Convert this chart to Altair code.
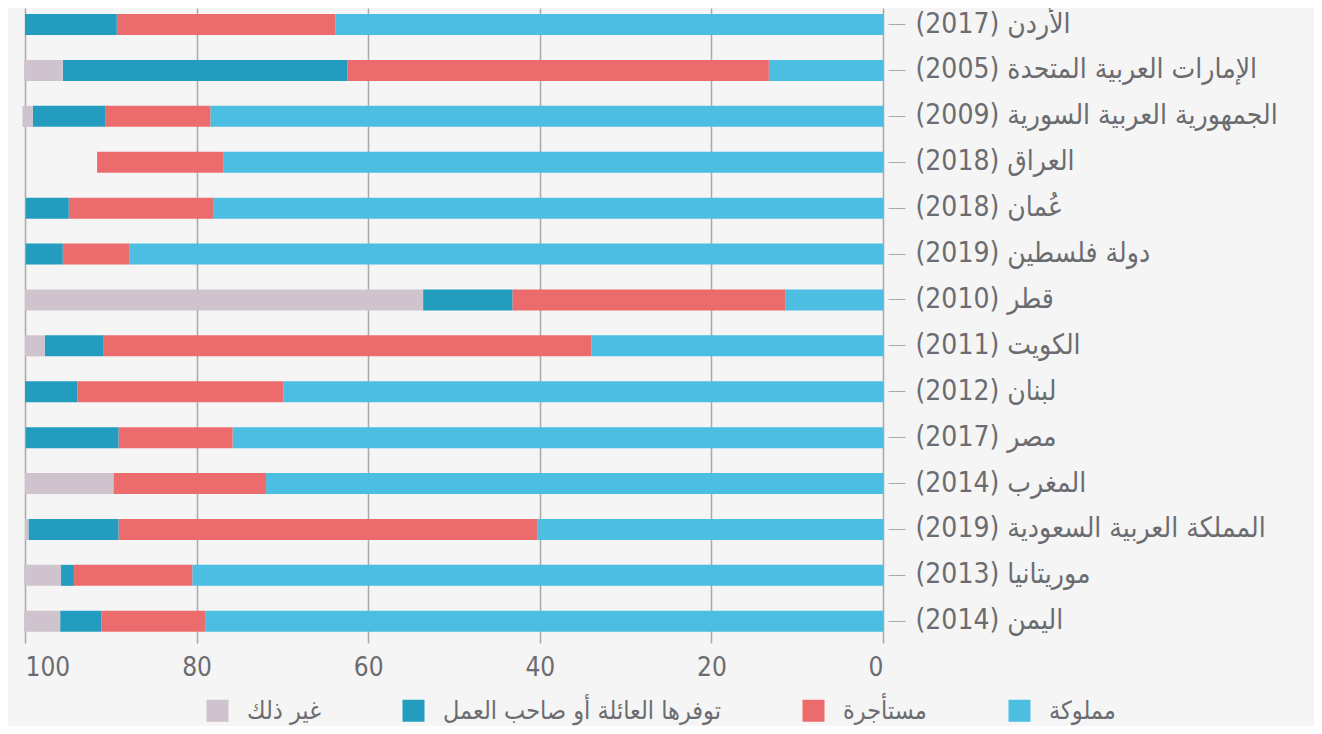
import altair as alt
import pandas as pd

countries = [
    "الأردن (2017)",
    "الإمارات العربية المتحدة (2005)",
    "الجمهورية العربية السورية (2009)",
    "العراق (2018)",
    "عُمان (2018)",
    "دولة فلسطين (2019)",
    "قطر (2010)",
    "الكويت (2011)",
    "لبنان (2012)",
    "مصر (2017)",
    "المغرب (2014)",
    "المملكة العربية السعودية (2019)",
    "موريتانيا (2013)",
    "اليمن (2014)",
]
categories = ["مملوكة", "مستأجرة", "توفرها العائلة أو صاحب العمل", "غير ذلك"]
colors = ["#4bbee2", "#ec6c6e", "#249cc0", "#cfc3cd"]

owned = [63.8, 13.3, 78.4, 76.9, 78.0, 87.8, 11.4, 34.0, 69.9, 75.8, 71.9, 40.3, 80.5, 79.0]
rented = [25.5, 49.1, 12.2, 14.7, 16.9, 7.8, 31.8, 56.9, 24.0, 13.3, 17.8, 48.8, 13.8, 12.1]
family = [10.7, 33.2, 8.5, 0.0, 5.0, 4.3, 10.4, 6.8, 6.1, 10.8, 0.0, 10.5, 1.5, 4.8]
other = [0.0, 4.5, 1.2, 0.0, 0.0, 0.0, 46.4, 2.3, 0.0, 0.0, 10.3, 0.4, 4.3, 4.2]

series = [owned, rented, family, other]
rows = []
for ci, cat in enumerate(categories):
    for i, c in enumerate(countries):
        rows.append({"country": c, "category": cat, "value": series[ci][i], "order": ci})
df = pd.DataFrame(rows)

text_color = "#6b6c70"
grid_color = "#a9a9a9"
font = "DejaVu Sans Condensed, DejaVu Sans"

chart = alt.Chart(df).mark_bar().encode(
    x=alt.X(
        "value:Q",
        stack="zero",
        scale=alt.Scale(domain=[0, 100], reverse=True, nice=False),
        axis=alt.Axis(
            values=[0, 20, 40, 60, 80, 100],
            title=None,
            domain=False,
            ticks=False,
            tickSize=0,
            labelPadding=11,
            labelFontSize=26,
            labelColor=text_color,
            gridColor=grid_color,
            gridWidth=1.5,
        ),
    ),
    y=alt.Y(
        "country:N",
        sort=countries,
        scale=alt.Scale(paddingInner=0.5425, paddingOuter=0.1885, align=0.35),
        axis=alt.Axis(
            orient="right",
            title=None,
            domain=False,
            grid=False,
            offset=5,
            tickSize=17,
            tickColor=grid_color,
            tickWidth=1,
            labelPadding=10,
            labelFontSize=28,
            labelLimit=0,
            labelColor=text_color,
            labelExpr="'\u202b' + datum.label + '\u202c'",
        ),
    ),
    color=alt.Color(
        "category:N",
        scale=alt.Scale(domain=categories[::-1], range=colors[::-1]),
        legend=alt.Legend(
            title=None,
            orient="none",
            legendX=180,
            legendY=690,
            direction="horizontal",
            columns=4,
            symbolType="square",
            symbolSize=484,
            symbolStrokeWidth=0,
            symbolOpacity=1,
            labelFontSize=25,
            labelLimit=0,
            labelColor=text_color,
            labelOffset=17,
            columnPadding=80,
            padding=0,
        ),
    ),
    order=alt.Order("order:Q"),
).properties(
    width=858,
    height=635,
    background="#f5f5f5",
    padding={"left": 17, "top": 0, "right": 431, "bottom": 83},
    autosize=alt.AutoSizeParams(type="none"),
).configure(font=font).configure_view(stroke=None)

chart.save("out.html", embed_options={"renderer": "svg", "actions": False})
